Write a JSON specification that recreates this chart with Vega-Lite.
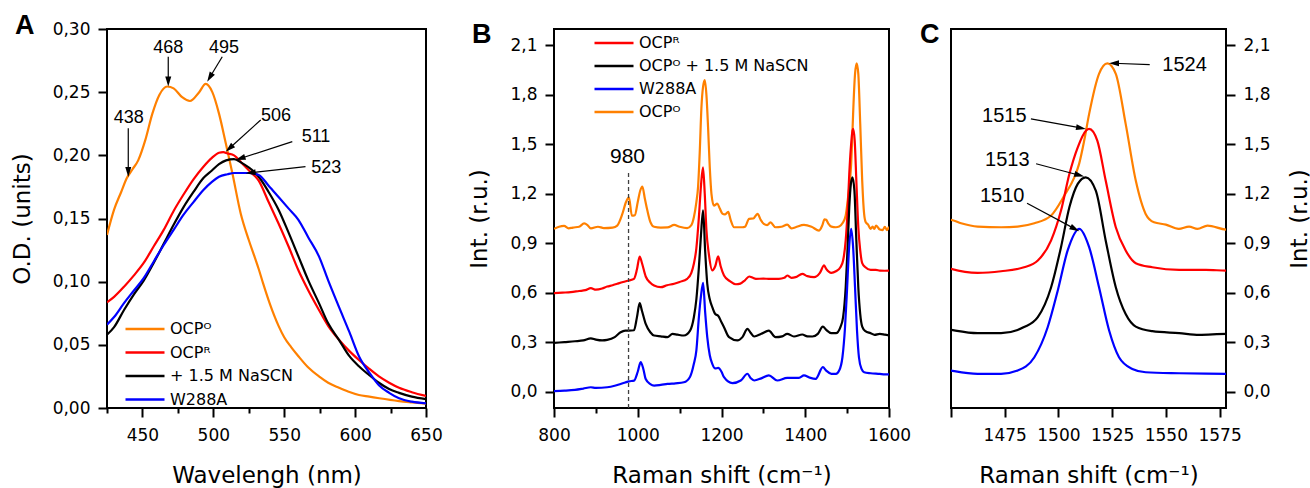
{
"$schema": "https://vega.github.io/schema/vega-lite/v6.json",
"padding": {"left": 10, "top": 11, "right": 2, "bottom": 4},
"config": {
  "font": "DejaVu Sans",
  "view": {"stroke": "black", "strokeWidth": 2},
  "axis": {"grid": false, "domain": false, "ticks": true, "tickColor": "black", "tickWidth": 2, "labelFont": "DejaVu Sans", "labelFontSize": 17, "labelColor": "black", "labelFlush": false, "labelOverlap": false, "labelBound": false, "titleFont": "DejaVu Sans", "titleFontSize": 23, "titleFontWeight": "normal", "titleColor": "black"},
  "axisX": {"labelPadding": 10, "titlePadding": 21},
  "axisY": {"labelPadding": 8, "titlePadding": 18},
  "legend": {"labelFont": "DejaVu Sans", "labelFontSize": 16, "labelColor": "black", "labelLimit": 400, "symbolType": "M-3,0H3", "symbolSize": 169, "symbolStrokeWidth": 2.5, "padding": 0, "rowPadding": 7, "labelOffset": 17},
  "title": {"font": "Liberation Sans", "fontSize": 27, "fontWeight": "bold", "color": "black", "anchor": "start", "frame": "group", "baseline": "alphabetic", "offset": -8, "dy": 12}
},
"datasets": {
  "abs": [
    {"s":"OCPᴼ","nm":425,"od":0.137},{"s":"OCPᴼ","nm":430,"od":0.157},{"s":"OCPᴼ","nm":435,"od":0.171},{"s":"OCPᴼ","nm":439,"od":0.182},{"s":"OCPᴼ","nm":443,"od":0.189},{"s":"OCPᴼ","nm":447,"od":0.196},{"s":"OCPᴼ","nm":452,"od":0.212},{"s":"OCPᴼ","nm":457,"od":0.233},{"s":"OCPᴼ","nm":462,"od":0.248},{"s":"OCPᴼ","nm":467.5,"od":0.2545},{"s":"OCPᴼ","nm":472,"od":0.253},{"s":"OCPᴼ","nm":478,"od":0.246},{"s":"OCPᴼ","nm":483.5,"od":0.243},{"s":"OCPᴼ","nm":490,"od":0.25},{"s":"OCPᴼ","nm":494.6,"od":0.2565},{"s":"OCPᴼ","nm":499.3,"od":0.25},{"s":"OCPᴼ","nm":504,"od":0.233},{"s":"OCPᴼ","nm":508.7,"od":0.21},{"s":"OCPᴼ","nm":513.4,"od":0.186},{"s":"OCPᴼ","nm":519.3,"od":0.154},{"s":"OCPᴼ","nm":525,"od":0.133},{"s":"OCPᴼ","nm":529,"od":0.12},{"s":"OCPᴼ","nm":532,"od":0.11},{"s":"OCPᴼ","nm":535,"od":0.099},{"s":"OCPᴼ","nm":540,"od":0.082},{"s":"OCPᴼ","nm":546,"od":0.065},{"s":"OCPᴼ","nm":550,"od":0.056},{"s":"OCPᴼ","nm":555,"od":0.048},{"s":"OCPᴼ","nm":560,"od":0.041},{"s":"OCPᴼ","nm":567,"od":0.032},{"s":"OCPᴼ","nm":574.5,"od":0.025},{"s":"OCPᴼ","nm":581,"od":0.02},{"s":"OCPᴼ","nm":588.6,"od":0.016},{"s":"OCPᴼ","nm":595,"od":0.013},{"s":"OCPᴼ","nm":602.7,"od":0.0103},{"s":"OCPᴼ","nm":610,"od":0.009},{"s":"OCPᴼ","nm":617,"od":0.0077},{"s":"OCPᴼ","nm":631,"od":0.0055},{"s":"OCPᴼ","nm":640,"od":0.0045},{"s":"OCPᴼ","nm":650,"od":0.0035},
    {"s":"OCPᴿ","nm":425,"od":0.0837},{"s":"OCPᴿ","nm":430,"od":0.088},{"s":"OCPᴿ","nm":437,"od":0.096},{"s":"OCPᴿ","nm":444,"od":0.105},{"s":"OCPᴿ","nm":451,"od":0.115},{"s":"OCPᴿ","nm":458,"od":0.128},{"s":"OCPᴿ","nm":465,"od":0.141},{"s":"OCPᴿ","nm":472,"od":0.156},{"s":"OCPᴿ","nm":479,"od":0.169},{"s":"OCPᴿ","nm":486,"od":0.181},{"s":"OCPᴿ","nm":493,"od":0.191},{"s":"OCPᴿ","nm":499,"od":0.198},{"s":"OCPᴿ","nm":504,"od":0.202},{"s":"OCPᴿ","nm":507,"od":0.2025},{"s":"OCPᴿ","nm":510,"od":0.2015},{"s":"OCPᴿ","nm":514.6,"od":0.2},{"s":"OCPᴿ","nm":520,"od":0.194},{"s":"OCPᴿ","nm":526,"od":0.187},{"s":"OCPᴿ","nm":532,"od":0.18},{"s":"OCPᴿ","nm":539,"od":0.163},{"s":"OCPᴿ","nm":546,"od":0.146},{"s":"OCPᴿ","nm":553,"od":0.128},{"s":"OCPᴿ","nm":560,"od":0.109},{"s":"OCPᴿ","nm":567,"od":0.093},{"s":"OCPᴿ","nm":574.5,"od":0.0776},{"s":"OCPᴿ","nm":581,"od":0.065},{"s":"OCPᴿ","nm":588.6,"od":0.054},{"s":"OCPᴿ","nm":596,"od":0.045},{"s":"OCPᴿ","nm":602.7,"od":0.038},{"s":"OCPᴿ","nm":610,"od":0.031},{"s":"OCPᴿ","nm":616.8,"od":0.025},{"s":"OCPᴿ","nm":624,"od":0.02},{"s":"OCPᴿ","nm":631,"od":0.016},{"s":"OCPᴿ","nm":640,"od":0.0125},{"s":"OCPᴿ","nm":650,"od":0.0095},
    {"s":"+ 1.5 M NaSCN","nm":425,"od":0.058},{"s":"+ 1.5 M NaSCN","nm":430,"od":0.064},{"s":"+ 1.5 M NaSCN","nm":437,"od":0.0776},{"s":"+ 1.5 M NaSCN","nm":444,"od":0.09},{"s":"+ 1.5 M NaSCN","nm":451,"od":0.101},{"s":"+ 1.5 M NaSCN","nm":458,"od":0.115},{"s":"+ 1.5 M NaSCN","nm":465,"od":0.13},{"s":"+ 1.5 M NaSCN","nm":472,"od":0.145},{"s":"+ 1.5 M NaSCN","nm":479,"od":0.159},{"s":"+ 1.5 M NaSCN","nm":486,"od":0.171},{"s":"+ 1.5 M NaSCN","nm":493,"od":0.182},{"s":"+ 1.5 M NaSCN","nm":499,"od":0.188},{"s":"+ 1.5 M NaSCN","nm":504,"od":0.193},{"s":"+ 1.5 M NaSCN","nm":509,"od":0.196},{"s":"+ 1.5 M NaSCN","nm":514.6,"od":0.197},{"s":"+ 1.5 M NaSCN","nm":520,"od":0.194},{"s":"+ 1.5 M NaSCN","nm":528.7,"od":0.187},{"s":"+ 1.5 M NaSCN","nm":532,"od":0.183},{"s":"+ 1.5 M NaSCN","nm":539,"od":0.171},{"s":"+ 1.5 M NaSCN","nm":546,"od":0.157},{"s":"+ 1.5 M NaSCN","nm":553,"od":0.139},{"s":"+ 1.5 M NaSCN","nm":560,"od":0.12},{"s":"+ 1.5 M NaSCN","nm":567,"od":0.101},{"s":"+ 1.5 M NaSCN","nm":574.5,"od":0.083},{"s":"+ 1.5 M NaSCN","nm":581,"od":0.067},{"s":"+ 1.5 M NaSCN","nm":588.6,"od":0.054},{"s":"+ 1.5 M NaSCN","nm":596,"od":0.041},{"s":"+ 1.5 M NaSCN","nm":602.7,"od":0.033},{"s":"+ 1.5 M NaSCN","nm":610,"od":0.026},{"s":"+ 1.5 M NaSCN","nm":616.8,"od":0.02},{"s":"+ 1.5 M NaSCN","nm":624,"od":0.015},{"s":"+ 1.5 M NaSCN","nm":631,"od":0.012},{"s":"+ 1.5 M NaSCN","nm":640,"od":0.009},{"s":"+ 1.5 M NaSCN","nm":650,"od":0.007},
    {"s":"W288A","nm":425,"od":0.066},{"s":"W288A","nm":430,"od":0.072},{"s":"W288A","nm":437,"od":0.083},{"s":"W288A","nm":444,"od":0.093},{"s":"W288A","nm":451,"od":0.103},{"s":"W288A","nm":458,"od":0.116},{"s":"W288A","nm":465,"od":0.129},{"s":"W288A","nm":472,"od":0.141},{"s":"W288A","nm":479,"od":0.153},{"s":"W288A","nm":486,"od":0.163},{"s":"W288A","nm":493,"od":0.1726},{"s":"W288A","nm":499,"od":0.179},{"s":"W288A","nm":504,"od":0.183},{"s":"W288A","nm":510,"od":0.185},{"s":"W288A","nm":514.6,"od":0.186},{"s":"W288A","nm":520,"od":0.186},{"s":"W288A","nm":525,"od":0.186},{"s":"W288A","nm":532,"od":0.1845},{"s":"W288A","nm":539,"od":0.176},{"s":"W288A","nm":546,"od":0.167},{"s":"W288A","nm":553,"od":0.158},{"s":"W288A","nm":560,"od":0.149},{"s":"W288A","nm":567,"od":0.135},{"s":"W288A","nm":574.5,"od":0.12},{"s":"W288A","nm":581,"od":0.101},{"s":"W288A","nm":588.6,"od":0.08},{"s":"W288A","nm":596,"od":0.06},{"s":"W288A","nm":602.7,"od":0.041},{"s":"W288A","nm":610,"od":0.028},{"s":"W288A","nm":616.8,"od":0.018},{"s":"W288A","nm":624,"od":0.012},{"s":"W288A","nm":631,"od":0.0077},{"s":"W288A","nm":640,"od":0.005},{"s":"W288A","nm":650,"od":0.0037}
  ],
  "annA": [
    {"t":"438","nm":440.3,"od":0.2293},{"t":"468","nm":468.2,"od":0.2847},{"t":"495","nm":507.5,"od":0.2847},{"t":"506","nm":544.2,"od":0.2311},{"t":"511","nm":572.4,"od":0.2143},{"t":"523","nm":579.7,"od":0.1897}
  ],
  "arrA": [
    {"nm":440,"od":0.2214,"nm2":440,"od2":0.186,"a":180},
    {"nm":468.2,"od":0.278,"nm2":468.2,"od2":0.2576,"a":180},
    {"nm":506.3,"od":0.278,"nm2":497.1,"od2":0.261,"a":211},
    {"nm":533.4,"od":0.228,"nm2":510.8,"od2":0.205,"a":228},
    {"nm":555.7,"od":0.2108,"nm2":518.4,"od2":0.1973,"a":252},
    {"nm":565,"od":0.191,"nm2":525.6,"od2":0.1861,"a":264}
  ],
  "raman": [
    {"s":"OCPᴼ","w":800,"i":0.987},{"s":"OCPᴼ","w":812,"i":1.0},{"s":"OCPᴼ","w":824,"i":1.005},{"s":"OCPᴼ","w":835,"i":0.99},{"s":"OCPᴼ","w":845,"i":0.995},{"s":"OCPᴼ","w":860,"i":1.0},{"s":"OCPᴼ","w":872,"i":1.02},{"s":"OCPᴼ","w":880,"i":1.01},{"s":"OCPᴼ","w":888,"i":0.99},{"s":"OCPᴼ","w":905,"i":1.0},{"s":"OCPᴼ","w":919,"i":0.992},{"s":"OCPᴼ","w":940,"i":0.995},{"s":"OCPᴼ","w":951,"i":1.007},{"s":"OCPᴼ","w":963,"i":1.076},{"s":"OCPᴼ","w":972,"i":1.15},{"s":"OCPᴼ","w":979,"i":1.178},{"s":"OCPᴼ","w":986,"i":1.067},{"s":"OCPᴼ","w":993,"i":1.07},{"s":"OCPᴼ","w":1000,"i":1.15},{"s":"OCPᴼ","w":1006,"i":1.22},{"s":"OCPᴼ","w":1011,"i":1.244},{"s":"OCPᴼ","w":1017,"i":1.17},{"s":"OCPᴼ","w":1023,"i":1.098},{"s":"OCPᴼ","w":1030,"i":1.03},{"s":"OCPᴼ","w":1039,"i":1.0},{"s":"OCPᴼ","w":1055,"i":0.995},{"s":"OCPᴼ","w":1071,"i":0.996},{"s":"OCPᴼ","w":1087,"i":1.011},{"s":"OCPᴼ","w":1100,"i":1.0},{"s":"OCPᴼ","w":1118,"i":0.992},{"s":"OCPᴼ","w":1128,"i":1.01},{"s":"OCPᴼ","w":1134,"i":1.058},{"s":"OCPᴼ","w":1140,"i":1.15},{"s":"OCPᴼ","w":1144,"i":1.24},{"s":"OCPᴼ","w":1148,"i":1.45},{"s":"OCPᴼ","w":1152,"i":1.72},{"s":"OCPᴼ","w":1156,"i":1.85},{"s":"OCPᴼ","w":1160,"i":1.89},{"s":"OCPᴼ","w":1164,"i":1.8},{"s":"OCPᴼ","w":1168,"i":1.6},{"s":"OCPᴼ","w":1172,"i":1.36},{"s":"OCPᴼ","w":1176,"i":1.2},{"s":"OCPᴼ","w":1182,"i":1.128},{"s":"OCPᴼ","w":1190,"i":1.14},{"s":"OCPᴼ","w":1196,"i":1.11},{"s":"OCPᴼ","w":1202,"i":1.08},{"s":"OCPᴼ","w":1208,"i":1.075},{"s":"OCPᴼ","w":1216,"i":1.09},{"s":"OCPᴼ","w":1222,"i":1.04},{"s":"OCPᴼ","w":1230,"i":0.997},{"s":"OCPᴼ","w":1250,"i":0.997},{"s":"OCPᴼ","w":1256,"i":1.0},{"s":"OCPᴼ","w":1266,"i":1.048},{"s":"OCPᴼ","w":1276,"i":1.05},{"s":"OCPᴼ","w":1286,"i":1.078},{"s":"OCPᴼ","w":1294,"i":1.04},{"s":"OCPᴼ","w":1301,"i":1.017},{"s":"OCPᴼ","w":1309,"i":1.01},{"s":"OCPᴼ","w":1317,"i":1.027},{"s":"OCPᴼ","w":1329,"i":0.997},{"s":"OCPᴼ","w":1343,"i":1.0},{"s":"OCPᴼ","w":1357,"i":1.013},{"s":"OCPᴼ","w":1367,"i":0.99},{"s":"OCPᴼ","w":1377,"i":0.997},{"s":"OCPᴼ","w":1397,"i":1.011},{"s":"OCPᴼ","w":1415,"i":1.0},{"s":"OCPᴼ","w":1433,"i":0.977},{"s":"OCPᴼ","w":1441,"i":1.01},{"s":"OCPᴼ","w":1446,"i":1.045},{"s":"OCPᴼ","w":1450,"i":1.042},{"s":"OCPᴼ","w":1454.7,"i":1.021},{"s":"OCPᴼ","w":1462.4,"i":1.001},{"s":"OCPᴼ","w":1473.3,"i":0.997},{"s":"OCPᴼ","w":1481,"i":1.001},{"s":"OCPᴼ","w":1488.8,"i":1.021},{"s":"OCPᴼ","w":1496.6,"i":1.068},{"s":"OCPᴼ","w":1502.8,"i":1.19},{"s":"OCPᴼ","w":1507.4,"i":1.3},{"s":"OCPᴼ","w":1509.6,"i":1.38},{"s":"OCPᴼ","w":1512,"i":1.523},{"s":"OCPᴼ","w":1514.3,"i":1.685},{"s":"OCPᴼ","w":1518.9,"i":1.928},{"s":"OCPᴼ","w":1522.8,"i":1.992},{"s":"OCPᴼ","w":1526.7,"i":1.928},{"s":"OCPᴼ","w":1531.3,"i":1.624},{"s":"OCPᴼ","w":1536,"i":1.28},{"s":"OCPᴼ","w":1540.6,"i":1.078},{"s":"OCPᴼ","w":1544.5,"i":1.027},{"s":"OCPᴼ","w":1550,"i":1.013},{"s":"OCPᴼ","w":1556,"i":0.987},{"s":"OCPᴼ","w":1560.8,"i":1.001},{"s":"OCPᴼ","w":1564.7,"i":0.987},{"s":"OCPᴼ","w":1569.4,"i":1.007},{"s":"OCPᴼ","w":1578,"i":0.983},{"s":"OCPᴼ","w":1585,"i":0.98},{"s":"OCPᴼ","w":1590,"i":1.0},{"s":"OCPᴼ","w":1595,"i":0.98},{"s":"OCPᴼ","w":1600,"i":1.0},
    {"s":"OCPᴿ","w":800,"i":0.597},{"s":"OCPᴿ","w":820,"i":0.6},{"s":"OCPᴿ","w":840,"i":0.603},{"s":"OCPᴿ","w":860,"i":0.61},{"s":"OCPᴿ","w":875,"i":0.615},{"s":"OCPᴿ","w":888,"i":0.627},{"s":"OCPᴿ","w":900,"i":0.618},{"s":"OCPᴿ","w":915,"i":0.625},{"s":"OCPᴿ","w":927,"i":0.637},{"s":"OCPᴿ","w":940,"i":0.645},{"s":"OCPᴿ","w":951,"i":0.654},{"s":"OCPᴿ","w":965,"i":0.665},{"s":"OCPᴿ","w":979,"i":0.674},{"s":"OCPᴿ","w":991,"i":0.684},{"s":"OCPᴿ","w":998,"i":0.74},{"s":"OCPᴿ","w":1004.6,"i":0.819},{"s":"OCPᴿ","w":1010,"i":0.78},{"s":"OCPᴿ","w":1019,"i":0.698},{"s":"OCPᴿ","w":1030,"i":0.66},{"s":"OCPᴿ","w":1039,"i":0.643},{"s":"OCPᴿ","w":1055,"i":0.633},{"s":"OCPᴿ","w":1070,"i":0.645},{"s":"OCPᴿ","w":1087,"i":0.654},{"s":"OCPᴿ","w":1100,"i":0.665},{"s":"OCPᴿ","w":1118,"i":0.684},{"s":"OCPᴿ","w":1128,"i":0.72},{"s":"OCPᴿ","w":1134,"i":0.775},{"s":"OCPᴿ","w":1140,"i":0.87},{"s":"OCPᴿ","w":1146,"i":1.058},{"s":"OCPᴿ","w":1151,"i":1.25},{"s":"OCPᴿ","w":1155.8,"i":1.36},{"s":"OCPᴿ","w":1160,"i":1.2},{"s":"OCPᴿ","w":1164,"i":0.98},{"s":"OCPᴿ","w":1170,"i":0.83},{"s":"OCPᴿ","w":1178,"i":0.735},{"s":"OCPᴿ","w":1185,"i":0.76},{"s":"OCPᴿ","w":1192,"i":0.82},{"s":"OCPᴿ","w":1198,"i":0.76},{"s":"OCPᴿ","w":1206,"i":0.704},{"s":"OCPᴿ","w":1220,"i":0.67},{"s":"OCPᴿ","w":1234,"i":0.651},{"s":"OCPᴿ","w":1245,"i":0.655},{"s":"OCPᴿ","w":1256,"i":0.675},{"s":"OCPᴿ","w":1266,"i":0.698},{"s":"OCPᴿ","w":1275,"i":0.69},{"s":"OCPᴿ","w":1282,"i":0.684},{"s":"OCPᴿ","w":1300,"i":0.685},{"s":"OCPᴿ","w":1313,"i":0.684},{"s":"OCPᴿ","w":1337,"i":0.684},{"s":"OCPᴿ","w":1350,"i":0.69},{"s":"OCPᴿ","w":1357,"i":0.704},{"s":"OCPᴿ","w":1367,"i":0.69},{"s":"OCPᴿ","w":1377,"i":0.694},{"s":"OCPᴿ","w":1393,"i":0.714},{"s":"OCPᴿ","w":1405,"i":0.7},{"s":"OCPᴿ","w":1421,"i":0.694},{"s":"OCPᴿ","w":1435,"i":0.72},{"s":"OCPᴿ","w":1445,"i":0.765},{"s":"OCPᴿ","w":1450,"i":0.744},{"s":"OCPᴿ","w":1462.4,"i":0.72},{"s":"OCPᴿ","w":1473.3,"i":0.73},{"s":"OCPᴿ","w":1484,"i":0.754},{"s":"OCPᴿ","w":1490.4,"i":0.795},{"s":"OCPᴿ","w":1496.6,"i":0.917},{"s":"OCPᴿ","w":1501.2,"i":1.098},{"s":"OCPᴿ","w":1505.1,"i":1.32},{"s":"OCPᴿ","w":1509,"i":1.482},{"s":"OCPᴿ","w":1512.9,"i":1.584},{"s":"OCPᴿ","w":1514.3,"i":1.594},{"s":"OCPᴿ","w":1518.1,"i":1.523},{"s":"OCPᴿ","w":1522,"i":1.28},{"s":"OCPᴿ","w":1526.7,"i":0.997},{"s":"OCPᴿ","w":1531.3,"i":0.856},{"s":"OCPᴿ","w":1536,"i":0.779},{"s":"OCPᴿ","w":1543.7,"i":0.754},{"s":"OCPᴿ","w":1556.2,"i":0.738},{"s":"OCPᴿ","w":1568.6,"i":0.738},{"s":"OCPᴿ","w":1578,"i":0.734},{"s":"OCPᴿ","w":1590,"i":0.733},{"s":"OCPᴿ","w":1600,"i":0.734},
    {"s":"OCPᴼ + 1.5 M NaSCN","w":800,"i":0.295},{"s":"OCPᴼ + 1.5 M NaSCN","w":825,"i":0.3},{"s":"OCPᴼ + 1.5 M NaSCN","w":850,"i":0.305},{"s":"OCPᴼ + 1.5 M NaSCN","w":870,"i":0.31},{"s":"OCPᴼ + 1.5 M NaSCN","w":888,"i":0.323},{"s":"OCPᴼ + 1.5 M NaSCN","w":900,"i":0.315},{"s":"OCPᴼ + 1.5 M NaSCN","w":915,"i":0.31},{"s":"OCPᴼ + 1.5 M NaSCN","w":927,"i":0.313},{"s":"OCPᴼ + 1.5 M NaSCN","w":945,"i":0.33},{"s":"OCPᴼ + 1.5 M NaSCN","w":959,"i":0.36},{"s":"OCPᴼ + 1.5 M NaSCN","w":970,"i":0.37},{"s":"OCPᴼ + 1.5 M NaSCN","w":979,"i":0.37},{"s":"OCPᴼ + 1.5 M NaSCN","w":991,"i":0.372},{"s":"OCPᴼ + 1.5 M NaSCN","w":998,"i":0.45},{"s":"OCPᴼ + 1.5 M NaSCN","w":1004.6,"i":0.536},{"s":"OCPᴼ + 1.5 M NaSCN","w":1010,"i":0.49},{"s":"OCPᴼ + 1.5 M NaSCN","w":1019,"i":0.41},{"s":"OCPᴼ + 1.5 M NaSCN","w":1030,"i":0.36},{"s":"OCPᴼ + 1.5 M NaSCN","w":1039,"i":0.34},{"s":"OCPᴼ + 1.5 M NaSCN","w":1055,"i":0.335},{"s":"OCPᴼ + 1.5 M NaSCN","w":1071,"i":0.33},{"s":"OCPᴼ + 1.5 M NaSCN","w":1083,"i":0.35},{"s":"OCPᴼ + 1.5 M NaSCN","w":1095,"i":0.345},{"s":"OCPᴼ + 1.5 M NaSCN","w":1110,"i":0.34},{"s":"OCPᴼ + 1.5 M NaSCN","w":1125,"i":0.37},{"s":"OCPᴼ + 1.5 M NaSCN","w":1134,"i":0.451},{"s":"OCPᴼ + 1.5 M NaSCN","w":1140,"i":0.56},{"s":"OCPᴼ + 1.5 M NaSCN","w":1146,"i":0.754},{"s":"OCPᴼ + 1.5 M NaSCN","w":1151,"i":0.95},{"s":"OCPᴼ + 1.5 M NaSCN","w":1156,"i":1.1},{"s":"OCPᴼ + 1.5 M NaSCN","w":1161,"i":0.85},{"s":"OCPᴼ + 1.5 M NaSCN","w":1166,"i":0.654},{"s":"OCPᴼ + 1.5 M NaSCN","w":1172,"i":0.56},{"s":"OCPᴼ + 1.5 M NaSCN","w":1178,"i":0.512},{"s":"OCPᴼ + 1.5 M NaSCN","w":1185,"i":0.47},{"s":"OCPᴼ + 1.5 M NaSCN","w":1192,"i":0.46},{"s":"OCPᴼ + 1.5 M NaSCN","w":1200,"i":0.42},{"s":"OCPᴼ + 1.5 M NaSCN","w":1206,"i":0.39},{"s":"OCPᴼ + 1.5 M NaSCN","w":1218,"i":0.33},{"s":"OCPᴼ + 1.5 M NaSCN","w":1238,"i":0.31},{"s":"OCPᴼ + 1.5 M NaSCN","w":1250,"i":0.33},{"s":"OCPᴼ + 1.5 M NaSCN","w":1262,"i":0.38},{"s":"OCPᴼ + 1.5 M NaSCN","w":1270,"i":0.355},{"s":"OCPᴼ + 1.5 M NaSCN","w":1278,"i":0.334},{"s":"OCPᴼ + 1.5 M NaSCN","w":1295,"i":0.35},{"s":"OCPᴼ + 1.5 M NaSCN","w":1313,"i":0.37},{"s":"OCPᴼ + 1.5 M NaSCN","w":1329,"i":0.33},{"s":"OCPᴼ + 1.5 M NaSCN","w":1345,"i":0.335},{"s":"OCPᴼ + 1.5 M NaSCN","w":1357,"i":0.35},{"s":"OCPᴼ + 1.5 M NaSCN","w":1373,"i":0.334},{"s":"OCPᴼ + 1.5 M NaSCN","w":1393,"i":0.346},{"s":"OCPᴼ + 1.5 M NaSCN","w":1405,"i":0.335},{"s":"OCPᴼ + 1.5 M NaSCN","w":1417,"i":0.334},{"s":"OCPᴼ + 1.5 M NaSCN","w":1430,"i":0.35},{"s":"OCPᴼ + 1.5 M NaSCN","w":1442,"i":0.394},{"s":"OCPᴼ + 1.5 M NaSCN","w":1450,"i":0.374},{"s":"OCPᴼ + 1.5 M NaSCN","w":1462.4,"i":0.354},{"s":"OCPᴼ + 1.5 M NaSCN","w":1473.3,"i":0.354},{"s":"OCPᴼ + 1.5 M NaSCN","w":1484,"i":0.391},{"s":"OCPᴼ + 1.5 M NaSCN","w":1490.4,"i":0.451},{"s":"OCPᴼ + 1.5 M NaSCN","w":1496.6,"i":0.633},{"s":"OCPᴼ + 1.5 M NaSCN","w":1501.2,"i":0.876},{"s":"OCPᴼ + 1.5 M NaSCN","w":1505.1,"i":1.118},{"s":"OCPᴼ + 1.5 M NaSCN","w":1509,"i":1.26},{"s":"OCPᴼ + 1.5 M NaSCN","w":1512.7,"i":1.3},{"s":"OCPᴼ + 1.5 M NaSCN","w":1517.4,"i":1.219},{"s":"OCPᴼ + 1.5 M NaSCN","w":1522,"i":0.917},{"s":"OCPᴼ + 1.5 M NaSCN","w":1526.7,"i":0.633},{"s":"OCPᴼ + 1.5 M NaSCN","w":1531.3,"i":0.47},{"s":"OCPᴼ + 1.5 M NaSCN","w":1536,"i":0.394},{"s":"OCPᴼ + 1.5 M NaSCN","w":1543.7,"i":0.366},{"s":"OCPᴼ + 1.5 M NaSCN","w":1556.2,"i":0.354},{"s":"OCPᴼ + 1.5 M NaSCN","w":1565.5,"i":0.344},{"s":"OCPᴼ + 1.5 M NaSCN","w":1578,"i":0.35},{"s":"OCPᴼ + 1.5 M NaSCN","w":1590,"i":0.345},{"s":"OCPᴼ + 1.5 M NaSCN","w":1600,"i":0.34},
    {"s":"W288A","w":800,"i":0.002},{"s":"W288A","w":825,"i":0.005},{"s":"W288A","w":850,"i":0.01},{"s":"W288A","w":870,"i":0.018},{"s":"W288A","w":888,"i":0.026},{"s":"W288A","w":900,"i":0.022},{"s":"W288A","w":927,"i":0.026},{"s":"W288A","w":945,"i":0.035},{"s":"W288A","w":959,"i":0.046},{"s":"W288A","w":970,"i":0.055},{"s":"W288A","w":979,"i":0.062},{"s":"W288A","w":991,"i":0.066},{"s":"W288A","w":1000,"i":0.12},{"s":"W288A","w":1007,"i":0.178},{"s":"W288A","w":1013,"i":0.14},{"s":"W288A","w":1019,"i":0.076},{"s":"W288A","w":1030,"i":0.045},{"s":"W288A","w":1039,"i":0.036},{"s":"W288A","w":1055,"i":0.04},{"s":"W288A","w":1071,"i":0.046},{"s":"W288A","w":1090,"i":0.05},{"s":"W288A","w":1110,"i":0.056},{"s":"W288A","w":1125,"i":0.09},{"s":"W288A","w":1134,"i":0.168},{"s":"W288A","w":1140,"i":0.25},{"s":"W288A","w":1146,"i":0.451},{"s":"W288A","w":1151,"i":0.58},{"s":"W288A","w":1156,"i":0.66},{"s":"W288A","w":1161,"i":0.48},{"s":"W288A","w":1166,"i":0.33},{"s":"W288A","w":1172,"i":0.22},{"s":"W288A","w":1178,"i":0.168},{"s":"W288A","w":1185,"i":0.14},{"s":"W288A","w":1192,"i":0.143},{"s":"W288A","w":1200,"i":0.12},{"s":"W288A","w":1206,"i":0.087},{"s":"W288A","w":1226,"i":0.051},{"s":"W288A","w":1246,"i":0.067},{"s":"W288A","w":1262,"i":0.108},{"s":"W288A","w":1270,"i":0.08},{"s":"W288A","w":1278,"i":0.067},{"s":"W288A","w":1295,"i":0.08},{"s":"W288A","w":1313,"i":0.098},{"s":"W288A","w":1333,"i":0.067},{"s":"W288A","w":1357,"i":0.083},{"s":"W288A","w":1385,"i":0.083},{"s":"W288A","w":1397,"i":0.098},{"s":"W288A","w":1410,"i":0.085},{"s":"W288A","w":1425,"i":0.077},{"s":"W288A","w":1442,"i":0.148},{"s":"W288A","w":1450,"i":0.127},{"s":"W288A","w":1462.4,"i":0.107},{"s":"W288A","w":1473.3,"i":0.107},{"s":"W288A","w":1481,"i":0.127},{"s":"W288A","w":1488.8,"i":0.208},{"s":"W288A","w":1495,"i":0.39},{"s":"W288A","w":1499.7,"i":0.613},{"s":"W288A","w":1504.3,"i":0.856},{"s":"W288A","w":1509.7,"i":0.987},{"s":"W288A","w":1514.3,"i":0.876},{"s":"W288A","w":1518.9,"i":0.633},{"s":"W288A","w":1523.6,"i":0.37},{"s":"W288A","w":1528.2,"i":0.208},{"s":"W288A","w":1534.4,"i":0.137},{"s":"W288A","w":1540.6,"i":0.117},{"s":"W288A","w":1556.2,"i":0.111},{"s":"W288A","w":1578,"i":0.107},{"s":"W288A","w":1590,"i":0.104},{"s":"W288A","w":1600,"i":0.104}
  ],
  "annC": [
    {"t":"1524","w":1558.7,"i":1.983},{"t":"1515","w":1474.8,"i":1.67},{"t":"1513","w":1476.2,"i":1.402},{"t":"1510","w":1473.8,"i":1.188}
  ],
  "arrC": [
    {"w":1542.5,"i":1.984,"w2":1525.4,"i2":1.992,"a":270},
    {"w":1487.2,"i":1.655,"w2":1511.0,"i2":1.598,"a":100},
    {"w":1489.6,"i":1.382,"w2":1510.2,"i2":1.311,"a":105},
    {"w":1485.4,"i":1.143,"w2":1508.1,"i2":0.984,"a":118}
  ]
},
"hconcat": [
  {
    "width": 319, "height": 379,
    "title": {"text": "A", "dx": -92},
    "resolve": {"axis": {"x": "independent"}},
    "layer": [
      {"data": {"name": "abs"},
       "mark": {"type": "line", "strokeWidth": 2.2, "interpolate": "monotone", "clip": true},
       "encoding": {
         "x": {"field": "nm", "type": "quantitative", "title": "Wavelengh (nm)", "scale": {"domain": [425, 650], "nice": false, "zero": false},
               "axis": {"orient": "bottom", "values": [450,500,550,600,650], "format": "d", "tickSize": 9}},
         "y": {"field": "od", "type": "quantitative", "title": "O.D. (units)", "scale": {"domain": [0, 0.3], "nice": false, "zero": false},
               "axis": {"values": [0,0.025,0.05,0.075,0.1,0.125,0.15,0.175,0.2,0.225,0.25,0.275,0.3], "labelExpr": "abs(datum.value*20-round(datum.value*20))<0.001 ? replace(format(datum.value,'.2f'),'.',',') : ''", "tickSize": {"condition": {"test": "abs(datum.value*20-round(datum.value*20))<0.001", "value": 9}, "value": 5}}},
         "color": {"field": "s", "type": "nominal",
                   "scale": {"domain": ["OCPᴼ","OCPᴿ","+ 1.5 M NaSCN","W288A"], "range": ["#FF8000","#FF0000","#000000","#0000FF"]},
                   "legend": {"title": null, "orient": "none", "legendX": 30, "legendY": 292, "rowPadding": 7.5}}
       }},
      {"data": {"name": "abs"},
       "mark": {"type": "point", "opacity": 0},
       "encoding": {
         "x": {"field": "nm", "type": "quantitative", "title": null,
               "axis": {"orient": "bottom", "values": [425,475,525,575,625], "labels": false, "tickSize": 5, "title": null}},
         "y": {"field": "od", "type": "quantitative", "title": "O.D. (units)"}
       }},
      {"data": {"name": "arrA"},
       "mark": {"type": "rule", "color": "black", "strokeWidth": 1.2},
       "encoding": {"x": {"field": "nm", "type": "quantitative", "axis": null}, "y": {"field": "od", "type": "quantitative", "title": "O.D. (units)"}, "x2": {"field": "nm2"}, "y2": {"field": "od2"}}},
      {"data": {"name": "arrA"},
       "mark": {"type": "point", "shape": "M0,-0.8L0.6,1.2L-0.6,1.2Z", "filled": true, "color": "black", "size": 100, "opacity": 1},
       "encoding": {"x": {"field": "nm2", "type": "quantitative", "axis": null}, "y": {"field": "od2", "type": "quantitative", "title": "O.D. (units)"}, "angle": {"field": "a", "type": "quantitative", "scale": null}}},
      {"data": {"name": "annA"},
       "mark": {"type": "text", "font": "Liberation Sans", "fontSize": 18, "color": "black", "align": "center", "baseline": "middle"},
       "encoding": {"x": {"field": "nm", "type": "quantitative", "axis": null}, "y": {"field": "od", "type": "quantitative", "title": "O.D. (units)"}, "text": {"field": "t"}}}
    ]
  },
  {
    "width": 4, "height": 379,
    "data": {"values": [{"a": 1}]},
    "mark": {"type": "point", "opacity": 0},
    "view": {"stroke": null}
  },
  {
    "width": 335, "height": 379,
    "title": {"text": "B", "dx": -82},
    "layer": [
      {"data": {"name": "raman"},
       "mark": {"type": "line", "strokeWidth": 2.2, "interpolate": "monotone", "clip": true},
       "encoding": {
         "x": {"field": "w", "type": "quantitative", "title": "Raman shift (cm⁻¹)", "scale": {"domain": [800, 1600], "nice": false, "zero": false},
               "axis": {"values": [800,900,1000,1100,1200,1300,1400,1500,1600], "labelExpr": "datum.value % 200 === 0 ? format(datum.value, 'd') : ''", "tickSize": {"condition": {"test": "datum.value % 200 === 0", "value": 9}, "value": 5}}},
         "y": {"field": "i", "type": "quantitative", "title": "Int. (r.u.)", "scale": {"domain": [-0.1, 2.2], "nice": false, "zero": false},
               "axis": {"values": [0,0.15,0.3,0.45,0.6,0.75,0.9,1.05,1.2,1.35,1.5,1.65,1.8,1.95,2.1], "labelExpr": "abs(datum.value/0.3-round(datum.value/0.3))<0.001 ? replace(format(datum.value,'.1f'),'.',',') : ''", "tickSize": {"condition": {"test": "abs(datum.value/0.3-round(datum.value/0.3))<0.001", "value": 9}, "value": 5}}},
         "color": {"field": "s", "type": "nominal",
                   "scale": {"domain": ["OCPᴿ","OCPᴼ + 1.5 M NaSCN","W288A","OCPᴼ"], "range": ["#FF0000","#000000","#0000FF","#FF8000"]},
                   "legend": {"title": null, "orient": "none", "legendX": 52, "legendY": 6, "rowPadding": 7}}
       }},
      {"data": {"values": [{"w": 978, "i": -0.1, "i2": 1.335}]},
       "mark": {"type": "rule", "color": "#404040", "strokeWidth": 1.3, "strokeDash": [4, 3]},
       "encoding": {"x": {"field": "w", "type": "quantitative", "title": "Raman shift (cm⁻¹)"}, "y": {"field": "i", "type": "quantitative", "title": "Int. (r.u.)"}, "y2": {"field": "i2"}}},
      {"data": {"values": [{"t": "980", "w": 975.5, "i": 1.423}]},
       "mark": {"type": "text", "font": "Liberation Sans", "fontSize": 21, "color": "black", "align": "center", "baseline": "middle"},
       "encoding": {"x": {"field": "w", "type": "quantitative", "title": "Raman shift (cm⁻¹)"}, "y": {"field": "i", "type": "quantitative", "title": "Int. (r.u.)"}, "text": {"field": "t"}}}
    ]
  },
  {
    "width": 275, "height": 379,
    "title": {"text": "C", "dx": -31},
    "layer": [
      {"data": {"name": "raman"},
       "mark": {"type": "line", "strokeWidth": 2.2, "interpolate": "monotone", "clip": true},
       "encoding": {
         "x": {"field": "w", "type": "quantitative", "title": "Raman shift (cm⁻¹)", "scale": {"domain": [1450, 1578], "nice": false, "zero": false},
               "axis": {"values": [1475,1450,1462.5,1487.5,1500,1512.5,1525,1537.5,1550,1562.5,1575], "labelExpr": "datum.value % 25 === 0 && datum.value > 1450 ? format(datum.value, 'd') : ''", "tickSize": {"condition": {"test": "datum.value % 25 === 0", "value": 9}, "value": 5}}},
         "y": {"field": "i", "type": "quantitative", "title": "Int. (r.u.)", "scale": {"domain": [-0.1, 2.2], "nice": false, "zero": false},
               "axis": {"orient": "right", "titleAngle": 270, "titleBaseline": "top", "values": [0,0.15,0.3,0.45,0.6,0.75,0.9,1.05,1.2,1.35,1.5,1.65,1.8,1.95,2.1], "labelExpr": "abs(datum.value/0.3-round(datum.value/0.3))<0.001 ? replace(format(datum.value,'.1f'),'.',',') : ''", "tickSize": {"condition": {"test": "abs(datum.value/0.3-round(datum.value/0.3))<0.001", "value": 9}, "value": 5}}},
         "color": {"field": "s", "type": "nominal",
                   "scale": {"domain": ["OCPᴿ","OCPᴼ + 1.5 M NaSCN","W288A","OCPᴼ"], "range": ["#FF0000","#000000","#0000FF","#FF8000"]},
                   "legend": null}
       }},
      {"data": {"name": "arrC"},
       "mark": {"type": "rule", "color": "black", "strokeWidth": 1.2},
       "encoding": {"x": {"field": "w", "type": "quantitative", "title": "Raman shift (cm⁻¹)"}, "y": {"field": "i", "type": "quantitative", "title": "Int. (r.u.)"}, "x2": {"field": "w2"}, "y2": {"field": "i2"}}},
      {"data": {"name": "arrC"},
       "mark": {"type": "point", "shape": "M0,-0.8L0.6,1.2L-0.6,1.2Z", "filled": true, "color": "black", "size": 100, "opacity": 1},
       "encoding": {"x": {"field": "w2", "type": "quantitative", "title": "Raman shift (cm⁻¹)"}, "y": {"field": "i2", "type": "quantitative", "title": "Int. (r.u.)"}, "angle": {"field": "a", "type": "quantitative", "scale": null}}},
      {"data": {"name": "annC"},
       "mark": {"type": "text", "font": "Liberation Sans", "fontSize": 20, "color": "black", "align": "center", "baseline": "middle"},
       "encoding": {"x": {"field": "w", "type": "quantitative", "title": "Raman shift (cm⁻¹)"}, "y": {"field": "i", "type": "quantitative", "title": "Int. (r.u.)"}, "text": {"field": "t"}}}
    ]
  }
],
"spacing": 62,
"bounds": "flush",
"resolve": {"scale": {"color": "independent"}, "legend": {"color": "independent"}}
}
